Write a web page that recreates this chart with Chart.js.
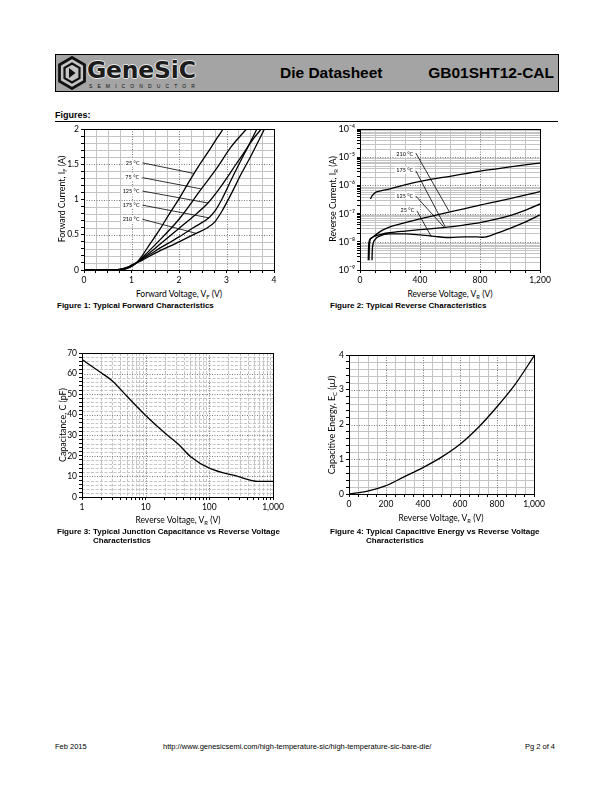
<!DOCTYPE html>
<html>
<head>
<meta charset="utf-8">
<script src="https://cdn.jsdelivr.net/npm/chart.js@4.4.1/dist/chart.umd.min.js"></script>
<style>
  body { margin: 0; width: 612px; height: 792px; position: relative; background: #fff;
         font-family: "Liberation Sans", Arial, sans-serif; color: #000; }
  .abs { position: absolute; }
  #header { left: 55px; top: 54px; width: 502px; height: 36px; background: #a4a4a4; border: 1px solid #000; }
  .logoText { left: 31px; top: 1px; font-family: "DejaVu Sans", sans-serif; font-weight: bold; font-size: 23.5px;
              color: #1c1c1c; letter-spacing: -0.2px;
              text-shadow: 1px 0 0 #e8e8e8, -1px 0 0 #e8e8e8, 0 1px 0 #e8e8e8, 0 -1px 0 #e8e8e8; }
  .logoSub { left: 33px; top: 28px; font-size: 5px; letter-spacing: 5.1px; color: #111; }
  .hTitle { font-weight: bold; font-size: 15.5px; top: 9px; }
  .figs { left: 55px; top: 110px; font-weight: bold; font-size: 9px; }
  .rule { left: 55px; top: 121px; width: 503px; height: 1px; background: #000; }
  .xt { font-family: Lato, "Open Sans", sans-serif; font-size: 8.5px; transform: translateX(-50%); white-space: nowrap; }
  .yt { font-family: Lato, "Open Sans", sans-serif; font-size: 8.8px; transform: translate(-50%, -50%) rotate(-90deg); white-space: nowrap; }
  .sb { font-size: 5.8px; vertical-align: -1.5px; }
  .cap { font-weight: bold; font-size: 8px; white-space: nowrap; }
  .foot { top: 742px; font-size: 7.5px; white-space: nowrap; }
  canvas { position: absolute; }
</style>
</head>
<body>

<div id="header" class="abs">
  <svg class="abs" style="left:2px;top:1px" width="28" height="34" viewBox="0 0 28 34">
    <polygon points="14,1.5 26.5,8.8 26.5,25.2 14,32.5 1.5,25.2 1.5,8.8" fill="#c4c4c4" stroke="#111" stroke-width="2.8"/>
    <polygon points="14,7.5 21.5,11.8 21.5,22.2 14,26.5 6.5,22.2 6.5,11.8" fill="none" stroke="#111" stroke-width="2.2"/>
    <path d="M11,12 L17.5,17 L11,22 Z" fill="#111"/>
  </svg>
  <div class="abs logoText">GeneSiC</div>
  <div class="abs logoSub">SEMICONDUCTOR</div>
  <div class="abs hTitle" style="left:224px">Die Datasheet</div>
  <div class="abs hTitle" style="right:4px">GB01SHT12-CAL</div>
</div>

<div class="abs figs">Figures:</div>
<div class="abs rule"></div>

<canvas id="fig1" width="238" height="170" style="left:50px;top:119px"></canvas>
<canvas id="fig2" width="238" height="170" style="left:318px;top:119px"></canvas>
<canvas id="fig3" width="240" height="175" style="left:48px;top:343px"></canvas>
<canvas id="fig4" width="238" height="170" style="left:318px;top:345px"></canvas>

<div class="abs xt" style="left:179px;top:289px">Forward Voltage, V<span class="sb">F</span> (V)</div>
<div class="abs yt" style="left:62px;top:199px">Forward Current, I<span class="sb">F</span> (A)</div>
<div class="abs cap" style="left:57px;top:301px">Figure 1: Typical Forward Characteristics</div>

<div class="abs xt" style="left:450px;top:289px">Reverse Voltage, V<span class="sb">R</span> (V)</div>
<div class="abs yt" style="left:333px;top:199px">Reverse Current, I<span class="sb">R</span> (A)</div>
<div class="abs cap" style="left:330px;top:301px">Figure 2: Typical Reverse Characteristics</div>

<div class="abs xt" style="left:178px;top:515px">Reverse Voltage, V<span class="sb">R</span> (V)</div>
<div class="abs yt" style="left:62px;top:425px">Capacitance, C (pF)</div>
<div class="abs cap" style="left:57px;top:527px">Figure 3: Typical Junction Capacitance vs Reverse Voltage</div>
<div class="abs cap" style="left:93px;top:536px">Characteristics</div>

<div class="abs xt" style="left:441px;top:513px">Reverse Voltage, V<span class="sb">R</span> (V)</div>
<div class="abs yt" style="left:332px;top:425px">Capacitive Energy, E<span class="sb">C</span> (µJ)</div>
<div class="abs cap" style="left:330px;top:527px">Figure 4: Typical Capacitive Energy vs Reverse Voltage</div>
<div class="abs cap" style="left:366px;top:536px">Characteristics</div>

<div class="abs foot" style="left:55px">Feb 2015</div>
<div class="abs foot" style="left:163px">http://www.genesicsemi.com/high-temperature-sic/high-temperature-sic-bare-die/</div>
<div class="abs foot" style="right:57px">Pg 2 of 4</div>

<script>
// ---- Figure 1: forward characteristics (V, A)
const vf25  = [0, 0.5, 0.7, 0.8, 0.9, 1.0, 1.1, 1.2, 1.4, 1.6, 1.8, 2.0, 2.2, 2.4, 2.6, 2.8, 2.93];
const if25  = [0, 0, 0.002, 0.006, 0.02, 0.05, 0.1, 0.18, 0.38, 0.58, 0.8, 1.01, 1.24, 1.46, 1.66, 1.87, 2.0];
const vf75  = [0, 0.5, 0.7, 0.8, 0.9, 1.0, 1.1, 1.2, 1.5, 2.0, 2.47, 2.8, 3.1, 3.42];
const if75  = [0, 0, 0.003, 0.008, 0.025, 0.055, 0.1, 0.16, 0.36, 0.72, 1.15, 1.45, 1.75, 2.0];
const vf125 = [0, 0.5, 0.7, 0.8, 0.9, 1.0, 1.1, 1.2, 1.5, 2.0, 2.3, 2.61, 2.9, 3.2, 3.45, 3.64];
const if125 = [0, 0, 0.004, 0.011, 0.03, 0.06, 0.1, 0.15, 0.31, 0.59, 0.76, 0.95, 1.2, 1.5, 1.75, 2.0];
const vf175 = [0, 0.5, 0.7, 0.8, 0.9, 1.0, 1.1, 1.2, 1.5, 2.0, 2.3, 2.63, 2.75, 2.9, 3.1, 3.3, 3.5, 3.73];
const if175 = [0, 0, 0.005, 0.014, 0.033, 0.065, 0.1, 0.14, 0.27, 0.47, 0.6, 0.74, 0.83, 1.0, 1.28, 1.55, 1.8, 2.0];
const vf210 = [0, 0.5, 0.7, 0.8, 0.9, 1.0, 1.1, 1.2, 1.5, 2.0, 2.36, 2.6, 2.75, 2.9, 3.1, 3.3, 3.5, 3.8];
const if210 = [0, 0, 0.006, 0.016, 0.036, 0.068, 0.1, 0.13, 0.24, 0.40, 0.52, 0.6, 0.68, 0.83, 1.08, 1.35, 1.6, 2.0];
const fig1XLabels = ['0', '1', '2', '3', '4'];
const fig1YLabels = ['0', '0.5', '1', '1.5', '2'];

// ---- Figure 2: reverse characteristics (V, A)
const vr210 = [70, 80, 95, 115, 150, 200, 300, 400, 500, 600, 700, 800, 900, 1000, 1100, 1200];
const ir210 = [3.3e-7, 4.2e-7, 5.2e-7, 6e-7, 6.6e-7, 7.5e-7, 1.05e-6, 1.4e-6, 1.75e-6, 2.1e-6, 2.6e-6, 3.2e-6, 3.8e-6, 4.5e-6, 5.3e-6, 6.2e-6];
const vr175 = [60, 62, 66, 80, 100, 150, 200, 300, 400, 500, 600, 700, 800, 900, 1000, 1100, 1200];
const ir175 = [2.2e-9, 6e-9, 1.1e-8, 1.4e-8, 1.7e-8, 2.6e-8, 3.4e-8, 4.8e-8, 6.5e-8, 8.7e-8, 1.15e-7, 1.5e-7, 2e-7, 2.6e-7, 3.4e-7, 4.5e-7, 6e-7];
const vr125 = [55, 57, 62, 80, 100, 150, 200, 300, 400, 500, 600, 700, 800, 900, 1000, 1100, 1200];
const ir125 = [2.2e-9, 6e-9, 1.1e-8, 1.4e-8, 1.6e-8, 1.9e-8, 2.1e-8, 2.4e-8, 2.7e-8, 3.0e-8, 3.4e-8, 4.0e-8, 4.8e-8, 6.2e-8, 8.5e-8, 1.3e-7, 2.2e-7];
const vr25  = [80, 82, 86, 100, 130, 200, 300, 400, 500, 550, 600, 700, 780, 820, 900, 1000, 1100, 1200];
const ir25  = [2.2e-9, 5e-9, 8e-9, 1.2e-8, 1.6e-8, 1.9e-8, 1.9e-8, 1.75e-8, 1.55e-8, 1.45e-8, 1.42e-8, 1.5e-8, 1.5e-8, 1.45e-8, 1.9e-8, 3e-8, 5e-8, 9e-8];
const fig2XLabels = ['0', '400', '800', '1,200'];
const fig2YLabels = ['10⁻⁹', '10⁻⁸', '10⁻⁷', '10⁻⁶', '10⁻⁵', '10⁻⁴'];

// ---- Figure 3: junction capacitance (V, pF)
const vrCap = [1, 2, 3, 5, 10, 20, 33, 51, 100, 280, 580, 1000];
const cap   = [66.8, 60.4, 56.4, 49.2, 39.6, 31.1, 25.5, 19.6, 14, 10, 7.6, 7.6];
const fig3XLabels = ['1', '10', '100', '1,000'];
const fig3YLabels = ['0', '10', '20', '30', '40', '50', '60', '70'];

// ---- Figure 4: capacitive energy (V, uJ)
const vrEc = [0, 100, 200, 300, 400, 500, 600, 700, 800, 900, 1000];
const ec   = [0, 0.08, 0.24, 0.5, 0.76, 1.06, 1.43, 1.92, 2.51, 3.17, 3.97];
const fig4XLabels = ['0', '200', '400', '600', '800', '1,000'];
const fig4YLabels = ['0', '1', '2', '3', '4'];

function steps(a, b, s) {
  var out = [];
  for (var v = a; v <= b + s / 1000; v += s) out.push(Math.round(v * 1e6) / 1e6);
  return out;
}
function logSteps(lo, hi) {
  var out = [];
  for (var d = lo; d < hi; d++)
    for (var m = 1; m < 10; m++) out.push(Number((m * Math.pow(10, d)).toPrecision(6)));
  out.push(Math.pow(10, hi));
  return out;
}
function near(a, b) {
  if (b === 0) return Math.abs(a) < 1e-9;
  return Math.abs(a - b) <= Math.abs(b) * 1e-6;
}

// grid lines and frame drawn through the chart's own scales
const frameGrid = {
  id: 'frameGrid',
  beforeDatasetsDraw(chart, args, opts) {
    const {ctx, chartArea: a, scales} = chart;
    ctx.save();
    ctx.beginPath(); ctx.rect(a.left, a.top, a.width, a.height); ctx.clip();
    ['minor', 'major'].forEach(function (kind) {
      ['x', 'y'].forEach(function (ax) {
        const scale = scales[ax];
        ctx.strokeStyle = kind === 'major' ? '#7a7a7a' : '#c4c4c4';
        ctx.setLineDash(kind === 'major' ? [1, 1.5] : (opts.minorDash || []));
        ctx.lineWidth = 1;
        scale.ticks.forEach(function (t) {
          const isMajor = opts[ax].some(function (m) { return near(t.value, m); });
          if (isMajor !== (kind === 'major')) return;
          const p = Math.round(scale.getPixelForValue(t.value)) + 0.5;
          ctx.beginPath();
          if (ax === 'x') { ctx.moveTo(p, a.top); ctx.lineTo(p, a.bottom); }
          else { ctx.moveTo(a.left, p); ctx.lineTo(a.right, p); }
          ctx.stroke();
        });
      });
    });
    ctx.restore();
  },
  afterDraw(chart) {
    const {ctx, chartArea: a} = chart;
    ctx.save();
    ctx.strokeStyle = '#000'; ctx.lineWidth = 1;
    ctx.strokeRect(Math.round(a.left) + 0.5, Math.round(a.top) + 0.5, Math.round(a.width), Math.round(a.height));
    ctx.restore();
  }
};

// temperature labels with leader lines
const callouts = {
  id: 'callouts',
  afterDatasetsDraw(chart, args, opts) {
    const {ctx, scales: {x, y}} = chart;
    ctx.save();
    ctx.font = '5.5px Lato';
    ctx.textAlign = 'right'; ctx.textBaseline = 'middle';
    (opts.items || []).forEach(function (c) {
      const tx = x.getPixelForValue(c.tx), ty = y.getPixelForValue(c.ty);
      const w = ctx.measureText(c.text).width;
      ctx.fillStyle = '#fff';
      ctx.fillRect(tx - w - 1.5, ty - 3.5, w + 3, 7);
      ctx.fillStyle = '#000';
      ctx.fillText(c.text, tx, ty);
      ctx.strokeStyle = '#000'; ctx.lineWidth = 0.8;
      ctx.beginPath();
      ctx.moveTo(x.getPixelForValue(c.x1), y.getPixelForValue(c.y1));
      ctx.lineTo(x.getPixelForValue(c.x2), y.getPixelForValue(c.y2));
      ctx.stroke();
    });
    ctx.restore();
  }
};

function axis(d, isX) {
  return {
    type: d.type || 'linear', min: d.min, max: d.max,
    position: isX ? 'bottom' : 'left',
    afterFit: function (s) { if (isX) s.height = d.fit; else s.width = d.fit; },
    afterBuildTicks: function (s) { s.ticks = d.ticks.map(function (v) { return {value: v}; }); },
    grid: { drawOnChartArea: false, drawTicks: true, tickLength: 3, tickColor: '#000', tickWidth: 1 },
    border: { display: true, color: '#000', width: 1 },
    ticks: {
      autoSkip: false, maxRotation: 0, padding: 2, color: '#000',
      font: { family: 'Lato', size: d.fontSize || 8.5 },
      callback: function (v) {
        const i = d.major.findIndex(function (m) { return near(v, m); });
        return i < 0 ? '' : d.labels[i];
      }
    }
  };
}

function series(xs, ys) {
  return {
    data: xs.map(function (v, i) { return {x: v, y: ys[i]}; }),
    borderColor: '#000', borderWidth: 1.3, pointRadius: 0, fill: false,
    cubicInterpolationMode: 'monotone'
  };
}

function buildChart(id, cfg) {
  return new Chart(document.getElementById(id), {
    type: 'line',
    data: { datasets: cfg.datasets },
    options: {
      responsive: false, animation: false,
      layout: { padding: { top: 10, right: cfg.padRight, left: 0, bottom: 0 } },
      plugins: {
        legend: { display: false }, tooltip: { enabled: false },
        frameGrid: { x: cfg.x.grid, y: cfg.y.grid, minorDash: cfg.minorDash },
        callouts: { items: cfg.callouts || [] }
      },
      scales: { x: axis(cfg.x, true), y: axis(cfg.y, false) }
    },
    plugins: [frameGrid, callouts]
  });
}

function draw() {
  buildChart('fig1', {
    datasets: [series(vf25, if25), series(vf75, if75), series(vf125, if125), series(vf175, if175), series(vf210, if210)],
    padRight: 14,
    x: { min: 0, max: 4, fit: 19, ticks: steps(0, 4, 0.25), major: [0, 1, 2, 3, 4], labels: fig1XLabels, grid: [1, 2, 3] },
    y: { min: 0, max: 2, fit: 34, ticks: steps(0, 2, 0.1), major: [0, 0.5, 1, 1.5, 2], labels: fig1YLabels, grid: [0.5, 1, 1.5] },
    callouts: [
      { text: '25 °C',  tx: 1.17, ty: 1.52, x1: 1.23, y1: 1.52, x2: 2.31, y2: 1.37 },
      { text: '75 °C',  tx: 1.16, ty: 1.32, x1: 1.23, y1: 1.31, x2: 2.47, y2: 1.15 },
      { text: '125 °C', tx: 1.17, ty: 1.12, x1: 1.23, y1: 1.12, x2: 2.61, y2: 0.95 },
      { text: '175 °C', tx: 1.17, ty: 0.92, x1: 1.23, y1: 0.92, x2: 2.63, y2: 0.74 },
      { text: '210 °C', tx: 1.17, ty: 0.72, x1: 1.23, y1: 0.72, x2: 2.36, y2: 0.52 }
    ]
  });

  buildChart('fig2', {
    datasets: [series(vr210, ir210), series(vr175, ir175), series(vr125, ir125), series(vr25, ir25)],
    padRight: 16,
    x: { min: 0, max: 1200, fit: 19, ticks: steps(0, 1200, 100), major: [0, 400, 800, 1200], labels: fig2XLabels, grid: [400, 800] },
    y: { type: 'logarithmic', min: 1e-9, max: 1e-4, fit: 42, fontSize: 9, ticks: logSteps(-9, -4),
         major: [1e-9, 1e-8, 1e-7, 1e-6, 1e-5, 1e-4], labels: fig2YLabels, grid: [1e-8, 1e-7, 1e-6, 1e-5] },
    callouts: [
      { text: '210 °C', tx: 355, ty: 1.3e-5, x1: 372, y1: 1.4e-5, x2: 594, y2: 1.2e-7 },
      { text: '175 °C', tx: 355, ty: 3.5e-6, x1: 372, y1: 3.3e-6, x2: 568, y2: 3.4e-8 },
      { text: '125 °C', tx: 355, ty: 4.3e-7, x1: 372, y1: 4.2e-7, x2: 560, y2: 3.3e-8 },
      { text: '25 °C',  tx: 362, ty: 1.3e-7, x1: 380, y1: 1.25e-7, x2: 476, y2: 1.5e-8 }
    ]
  });

  buildChart('fig3', {
    datasets: [series(vrCap, cap)],
    padRight: 15, minorDash: [3, 1.5],
    x: { type: 'logarithmic', min: 1, max: 1000, fit: 21, ticks: logSteps(0, 3), major: [1, 10, 100, 1000], labels: fig3XLabels, grid: [10, 100] },
    y: { min: 0, max: 70, fit: 34, ticks: steps(0, 70, 2), major: [0, 10, 20, 30, 40, 50, 60, 70], labels: fig3YLabels, grid: [10, 20, 30, 40, 50, 60] }
  });

  buildChart('fig4', {
    datasets: [series(vrEc, ec)],
    padRight: 22,
    x: { min: 0, max: 1000, fit: 21, ticks: steps(0, 1000, 50), major: [0, 200, 400, 600, 800, 1000], labels: fig4XLabels, grid: [200, 400, 600, 800] },
    y: { min: 0, max: 4, fit: 31, ticks: steps(0, 4, 0.2), major: [0, 1, 2, 3, 4], labels: fig4YLabels, grid: [1, 2, 3] }
  });
}

document.fonts.load('8px Lato').then(draw, draw);
</script>
</body>
</html>
